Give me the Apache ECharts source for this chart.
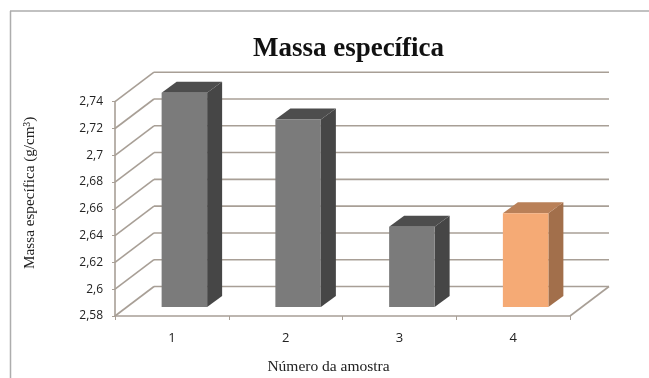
<!DOCTYPE html>
<html>
<head>
<meta charset="utf-8">
<style>html,body{margin:0;padding:0;background:#fff}#chart{width:649px;height:378px}</style>
<script src="https://cdn.jsdelivr.net/npm/echarts@6/dist/echarts.min.js"></script>
</head>
<body>
<div id="chart"></div>
<script>
// Sample density per specimen
const categories = ['1', '2', '3', '4'];
const values = [2.74, 2.72, 2.64, 2.65];
const yTicks = [2.58, 2.6, 2.62, 2.64, 2.66, 2.68, 2.7, 2.72, 2.74];
const barColors = [
  { front: '#7b7b7b', top: '#4d4d4d', side: '#464646' },
  { front: '#7b7b7b', top: '#4d4d4d', side: '#464646' },
  { front: '#7b7b7b', top: '#4d4d4d', side: '#464646' },
  { front: '#f5aa75', top: '#b98058', side: '#a26f4b' }
];

const GRID_COLOR = '#a89f96';
const WALL_DX = 39, WALL_DY = -29.5;    // depth of the pseudo-3D box
const BAR_DX = 15, BAR_DY = -11;        // depth of each column
const BAR_INSET_X = 12.5, BAR_INSET_Y = -9; // columns sit inside the floor
const BAR_RATIO = 0.4;

const chart = echarts.init(document.getElementById('chart'), null, { renderer: 'canvas' });

function line(x1, y1, x2, y2) {
  return {
    type: 'line',
    shape: { x1, y1, x2, y2 },
    style: { stroke: GRID_COLOR, lineWidth: 1.6, fill: null }
  };
}

function poly(points, fill) {
  return { type: 'polygon', shape: { points }, style: { fill, stroke: null } };
}

// Back wall lines and their diagonals towards the value axis
function renderWall(params, api) {
  const tick = api.value(0);
  const front = api.coord([0, tick]);
  const grid = params.coordSys;
  const left = grid.x;
  const right = grid.x + grid.width;
  const y = front[1];
  const children = [
    line(left, y, left + WALL_DX, y + WALL_DY),
    line(left + WALL_DX, y + WALL_DY, right + WALL_DX, y + WALL_DY)
  ];
  if (params.dataIndex === 0) {
    children.push(line(right, y, right + WALL_DX, y + WALL_DY));
  }
  return { type: 'group', children };
}

// Column with front, top and side faces
function renderBar(params, api) {
  const idx = api.value(0);
  const top = api.coord([idx, api.value(1)]);
  const base = api.coord([idx, yTicks[0]]);
  const w = api.size([1, 0])[0] * BAR_RATIO;
  const x0 = top[0] - w / 2 + BAR_INSET_X;
  const x1 = x0 + w;
  const yT = top[1] + BAR_INSET_Y;
  const yB = base[1] + BAR_INSET_Y;
  const c = barColors[idx];
  return {
    type: 'group',
    children: [
      poly([[x1, yT], [x1 + BAR_DX, yT + BAR_DY], [x1 + BAR_DX, yB + BAR_DY], [x1, yB]], c.side),
      poly([[x0, yT], [x0 + BAR_DX, yT + BAR_DY], [x1 + BAR_DX, yT + BAR_DY], [x1, yT]], c.top),
      { type: 'rect', shape: { x: x0, y: yT, width: w, height: yB - yT }, style: { fill: c.front } }
    ]
  };
}

chart.setOption({
  animation: false,
  backgroundColor: '#ffffff',
  title: {
    text: 'Massa específica',
    left: 343.5,
    top: 31,
    textAlign: 'center',
    textStyle: { fontFamily: 'Liberation Serif', fontSize: 27, fontWeight: 'bold', color: '#111' }
  },
  graphic: [
    { type: 'line', silent: true, shape: { x1: 10.5, y1: 11, x2: 10.5, y2: 378 }, style: { stroke: '#adadad', lineWidth: 1.5 } },
    { type: 'line', silent: true, shape: { x1: 10, y1: 11, x2: 649, y2: 11 }, style: { stroke: '#adadad', lineWidth: 1.5 } }
  ],
  grid: { left: 115, right: 79, top: 101.7, bottom: 62, containLabel: false, outerBoundsMode: 'none' },
  xAxis: {
    type: 'category',
    data: categories,
    name: 'Número da amostra',
    nameLocation: 'middle',
    nameGap: 43,
    nameTextStyle: { fontFamily: 'Liberation Serif', fontSize: 15.5, color: '#222', padding: [0, 28, 0, 0] },
    axisLine: { lineStyle: { color: GRID_COLOR, width: 1.6 } },
    axisTick: { show: true, alignWithLabel: false, length: 4, lineStyle: { color: GRID_COLOR } },
    axisLabel: { margin: 16, fontFamily: 'Open Sans', fontSize: 13, color: '#222' }
  },
  yAxis: {
    type: 'value',
    min: 2.58,
    max: 2.74,
    interval: 0.02,
    name: 'Massa específica (g/cm³)',
    nameLocation: 'middle',
    nameGap: 77,
    nameRotate: 90,
    nameTextStyle: { fontFamily: 'Liberation Serif', fontSize: 15.2, color: '#222', padding: [0, 0, 0, 32] },
    axisLine: { show: true, onZero: false, lineStyle: { color: GRID_COLOR, width: 1.6 } },
    axisTick: { show: true, length: 3, lineStyle: { color: GRID_COLOR } },
    splitLine: { show: false },
    axisLabel: {
      margin: 12,
      fontFamily: 'Open Sans',
      fontSize: 12,
      color: '#222',
      formatter: v => String(+v.toFixed(2)).replace('.', ',')
    }
  },
  series: [
    {
      type: 'custom',
      name: 'Parede',
      z: 1,
      clip: false,
      silent: true,
      renderItem: renderWall,
      data: yTicks.map(t => [t]),
      encode: { y: 0 }
    },
    {
      type: 'custom',
      name: 'Massa específica',
      z: 2,
      clip: false,
      silent: true,
      renderItem: renderBar,
      data: values.map((v, i) => [i, v]),
      encode: { x: 0, y: 1 }
    }
  ]
});
</script>
</body>
</html>
